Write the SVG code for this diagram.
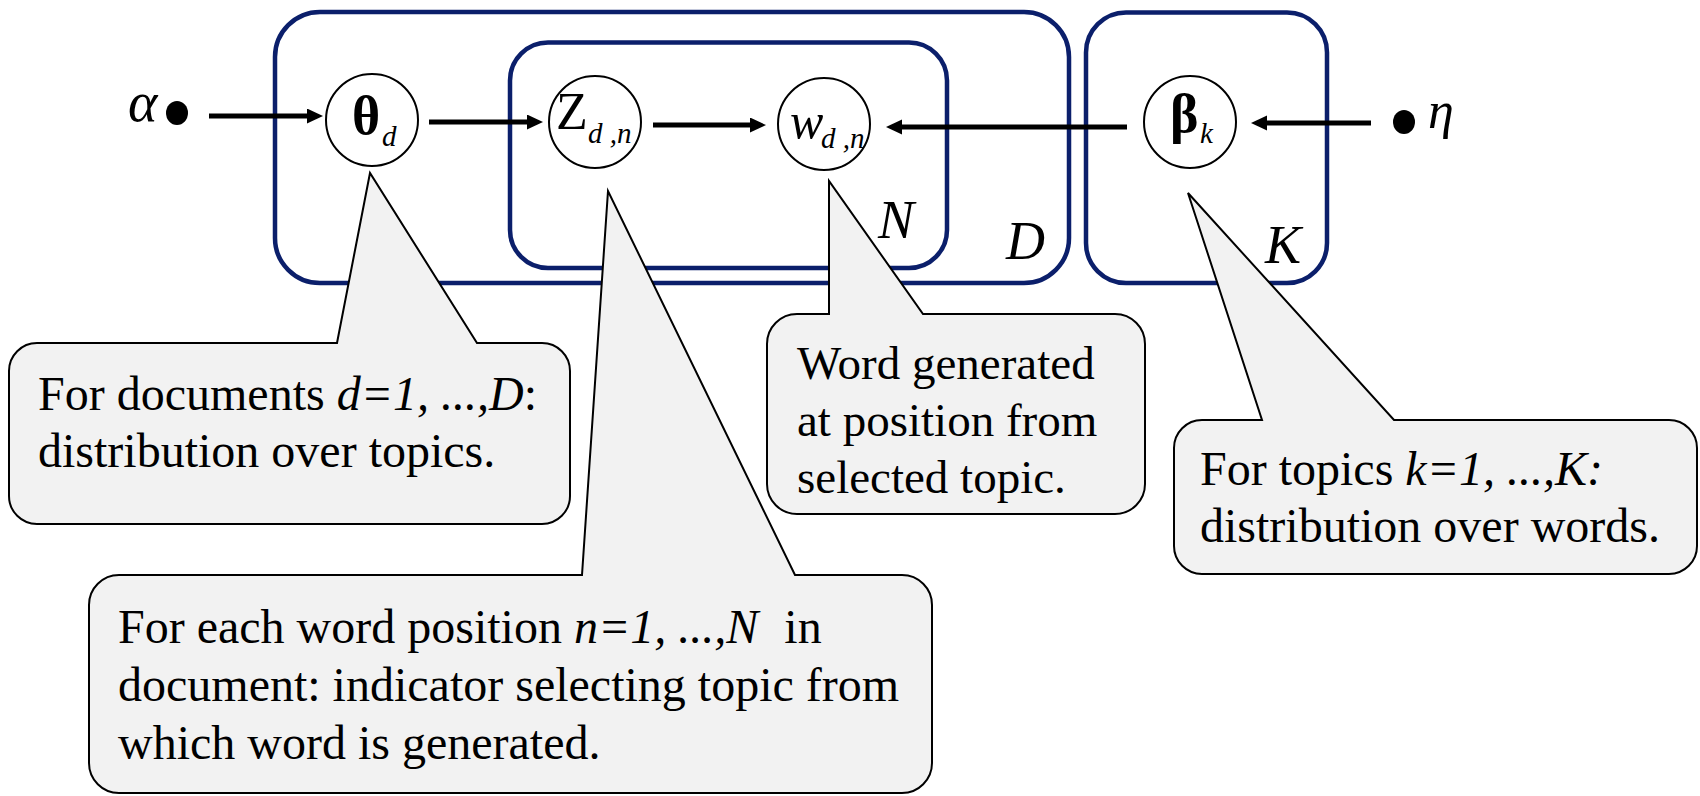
<svg xmlns="http://www.w3.org/2000/svg" width="1700" height="796" viewBox="0 0 1700 796">
  <style>
    .plate { fill: none; stroke: #0b1f6b; stroke-width: 4.5; }
    .node { fill: #ffffff; stroke: #000000; stroke-width: 2; }
    .edge { fill: none; stroke: #000000; stroke-width: 5; }
    .callout { fill: #f2f2f2; stroke: #000000; stroke-width: 2; stroke-linejoin: miter; }
    .txt { font-family: "Liberation Serif", "Times New Roman", serif; fill: #000000; }
    .note { font-size: 48px; }
    .ital { font-style: italic; }
    .bold { font-weight: bold; }
    .sub { font-size: 29px; font-style: italic; }
    .plab { font-size: 54px; font-style: italic; }
  </style>
  <defs>
    <marker id="head" markerUnits="userSpaceOnUse" markerWidth="18" markerHeight="16" refX="2" refY="7.5" orient="auto">
      <path d="M0,0 L16,7.5 L0,15 Z" fill="#000000"/>
    </marker>
  </defs>

  <rect width="1700" height="796" fill="#ffffff"/>

  <!-- plates -->
  <g id="plate-D"><rect class="plate" x="275" y="12" width="794" height="271" rx="45" ry="45"/>
    <text class="txt plab" x="1006" y="259">D</text></g>
  <g id="plate-N"><rect class="plate" x="510" y="42.5" width="437" height="225.5" rx="38" ry="38"/>
    <text class="txt plab" x="878" y="238">N</text></g>
  <g id="plate-K"><rect class="plate" x="1086" y="12.5" width="241" height="270.5" rx="40" ry="40"/>
    <text class="txt plab" x="1265" y="263">K</text></g>

  <!-- connectors -->
  <g id="connectors">
    <line class="edge" x1="209" y1="116" x2="309" y2="116" marker-end="url(#head)"/>
    <line class="edge" x1="429" y1="122" x2="529" y2="122" marker-end="url(#head)"/>
    <line class="edge" x1="653" y1="125" x2="752" y2="125" marker-end="url(#head)"/>
    <line class="edge" x1="1127" y1="127" x2="900" y2="127" marker-end="url(#head)"/>
    <line class="edge" x1="1371" y1="123" x2="1265" y2="123" marker-end="url(#head)"/>
  </g>

  <!-- hyperparameters -->
  <g id="alpha">
    <text class="txt ital" x="128" y="121" font-size="56">α</text>
    <ellipse cx="177" cy="113" rx="11" ry="12" fill="#000000"/>
  </g>
  <g id="eta">
    <ellipse cx="1404" cy="122" rx="11" ry="12" fill="#000000"/>
    <text class="txt ital" x="1428" y="128" font-size="52">η</text>
  </g>

  <!-- variables -->
  <g id="theta">
    <circle class="node" cx="372" cy="120" r="46"/>
    <text class="txt bold" x="352" y="134" font-size="54">θ</text>
    <text class="txt sub" x="382" y="146">d</text>
  </g>
  <g id="z">
    <circle class="node" cx="595" cy="122" r="46"/>
    <text class="txt" x="556" y="129" font-size="52">Z</text>
    <text class="txt sub" x="588" y="143">d ,n</text>
  </g>
  <g id="w">
    <circle class="node" cx="824" cy="124" r="46"/>
    <text class="txt ital" x="790" y="138" font-size="50">w</text>
    <text class="txt sub" x="821" y="148">d ,n</text>
  </g>
  <g id="beta">
    <circle class="node" cx="1190" cy="122" r="46"/>
    <text class="txt bold" x="1170" y="132" font-size="54">β</text>
    <text class="txt sub" x="1200" y="143">k</text>
  </g>

  <!-- annotation balloons -->
  <g id="note-theta">
    <path class="callout" d="M37,343 L337,343 L370,173 L477,343 L542,343 A28,28 0 0 1 570,371 L570,496 A28,28 0 0 1 542,524 L37,524 A28,28 0 0 1 9,496 L9,371 A28,28 0 0 1 37,343 Z"/>
    <text class="txt note" x="38" y="410">For documents <tspan class="ital">d=1, ...,D</tspan>:</text>
    <text class="txt note" x="38" y="467">distribution over topics.</text>
  </g>
  <g id="note-z">
    <path class="callout" d="M119,575 L582,575 L608,191 L795,575 L902,575 A30,30 0 0 1 932,605 L932,763 A30,30 0 0 1 902,793 L119,793 A30,30 0 0 1 89,763 L89,605 A30,30 0 0 1 119,575 Z"/>
    <text class="txt note" x="118" y="643">For each word position <tspan class="ital">n=1, ...,N</tspan> <tspan dx="14">in</tspan></text>
    <text class="txt note" x="118" y="701">document: indicator selecting topic from</text>
    <text class="txt note" x="118" y="759">which word is generated.</text>
  </g>
  <g id="note-w">
    <path class="callout" d="M797,314 L829,314 L829,181 L923,314 L1115,314 A30,30 0 0 1 1145,344 L1145,484 A30,30 0 0 1 1115,514 L797,514 A30,30 0 0 1 767,484 L767,344 A30,30 0 0 1 797,314 Z"/>
    <text class="txt" font-size="47" x="797" y="379">Word generated</text>
    <text class="txt" font-size="47" x="797" y="436">at position from</text>
    <text class="txt" font-size="47" x="797" y="493">selected topic.</text>
  </g>
  <g id="note-beta">
    <path class="callout" d="M1202,420 L1262,420 L1188,193 L1394,420 L1669,420 A28,28 0 0 1 1697,448 L1697,546 A28,28 0 0 1 1669,574 L1202,574 A28,28 0 0 1 1174,546 L1174,448 A28,28 0 0 1 1202,420 Z"/>
    <text class="txt note" x="1200" y="485">For topics <tspan class="ital">k=1, ...,K:</tspan></text>
    <text class="txt note" x="1200" y="542">distribution over words.</text>
  </g>
</svg>
